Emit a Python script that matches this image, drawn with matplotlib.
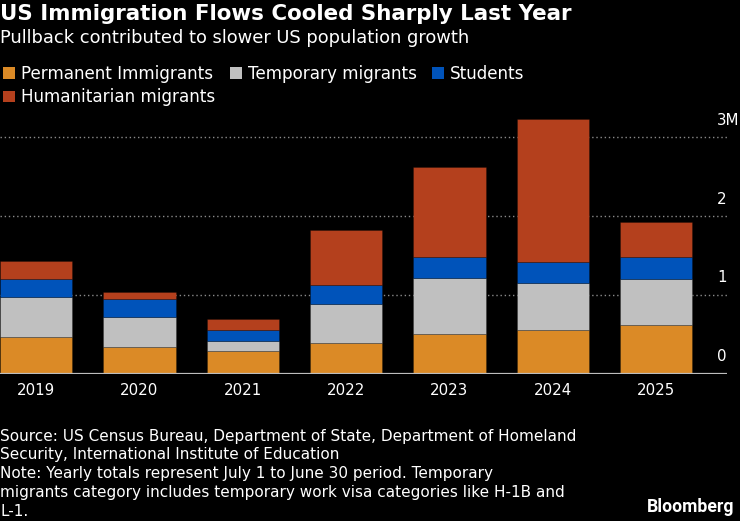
import matplotlib
matplotlib.use("Agg")
import matplotlib.pyplot as plt
from matplotlib.patches import Patch
import matplotlib.transforms as mtransforms
from matplotlib import font_manager

years = ["2019", "2020", "2021", "2022", "2023", "2024", "2025"]
permanent = [0.46, 0.335, 0.28, 0.39, 0.50, 0.55, 0.62]
temporary = [0.51, 0.38, 0.13, 0.49, 0.71, 0.60, 0.58]
students = [0.23, 0.23, 0.14, 0.24, 0.27, 0.27, 0.28]
humanitarian = [0.23, 0.09, 0.145, 0.70, 1.14, 1.81, 0.45]
series_names = ["Permanent Immigrants", "Temporary migrants", "Students", "Humanitarian migrants"]
colors = ["#DB8A26", "#C0C0C0", "#0053BA", "#B4401D"]
yticks = [0, 1, 2, 3]
ytick_labels = ["0", "1", "2", "3M"]

names = {f.name for f in font_manager.fontManager.ttflist}
LOGO_FONT = "Roboto" if "Roboto" in names else "DejaVu Sans"
plt.rcParams["font.family"] = ["DejaVu Sans"]

W, H = 740, 521
fig = plt.figure(figsize=(W / 100, H / 100), dpi=100, facecolor="black")

base_px = 373.5
top_val = 3.3
px_per = 78.67
ax_left, ax_right = 0, 727
top_px = base_px - top_val * px_per
ax = fig.add_axes([ax_left / W, 1 - base_px / H, (ax_right - ax_left) / W, (base_px - top_px) / H])
ax.set_facecolor("black")

x = list(range(len(years)))
bottoms = [0.0] * len(years)
for vals, c in zip([permanent, temporary, students, humanitarian], colors):
    ax.bar(x, vals, width=0.7, bottom=bottoms, color=c, edgecolor=(0, 0, 0, 0.25), linewidth=0.6, zorder=3)
    bottoms = [b + v for b, v in zip(bottoms, vals)]

ax.set_xlim(-0.35, 6.686)
ax.set_ylim(0, top_val)
for s in ax.spines.values():
    s.set_visible(False)
ax.axhline(0, color="#BDBDBD", lw=1.6, zorder=4)
for t in yticks[1:]:
    ax.axhline(t, color="#8A8A8A", lw=1.0, ls=(0, (1, 2)), zorder=1)
ax.set_yticks([])
ax.set_xticks(x)
ax.set_xticklabels(years, color="white", fontsize=10.8)
ax.tick_params(axis="x", length=0, pad=6.5)

trans = mtransforms.blended_transform_factory(ax.transAxes, ax.transData)
for t, lab in zip(yticks, ytick_labels):
    ax.annotate(lab, xy=(717 / 727, t), xycoords=trans, xytext=(0, 12.2), textcoords="offset points",
                ha="left", va="center", color="white", fontsize=10.8)

fig.text(0.0, 1 - 14 / H, "US Immigration Flows Cooled Sharply Last Year", color="white",
         fontsize=15.4, fontweight="bold", ha="left", va="center")
fig.text(0.0, 1 - 38 / H, "Pullback contributed to slower US population growth", color="white",
         fontsize=12.9, ha="left", va="center")

handles = [Patch(facecolor=c, edgecolor="none") for c in colors]
order = [0, 3, 1, 2]
leg = fig.legend([handles[i] for i in order], [series_names[i] for i in order], ncol=3,
                 loc="upper left", bbox_to_anchor=(2.7 / W, 1 - 65 / H), frameon=False,
                 fontsize=12.1, labelcolor="white", handlelength=0.71, handleheight=0.71,
                 handletextpad=0.4, columnspacing=0.85, labelspacing=0.32, borderaxespad=0, borderpad=0)

footer = ["Source: US Census Bureau, Department of State, Department of Homeland",
          "Security, International Institute of Education",
          "Note: Yearly totals represent July 1 to June 30 period. Temporary",
          "migrants category includes temporary work visa categories like H-1B and",
          "L-1."]
for i, line in enumerate(footer):
    fig.text(0.0, 1 - (436 + i * 18.8) / H, line, color="white", fontsize=11.0, ha="left", va="center")
fig.text(734 / W, 1 - 507 / H, "Bloomberg", color="white", fontsize=12.7, fontweight="bold",
         ha="right", va="center", family=LOGO_FONT)

fig.savefig("out.png", dpi=100, facecolor="black")
